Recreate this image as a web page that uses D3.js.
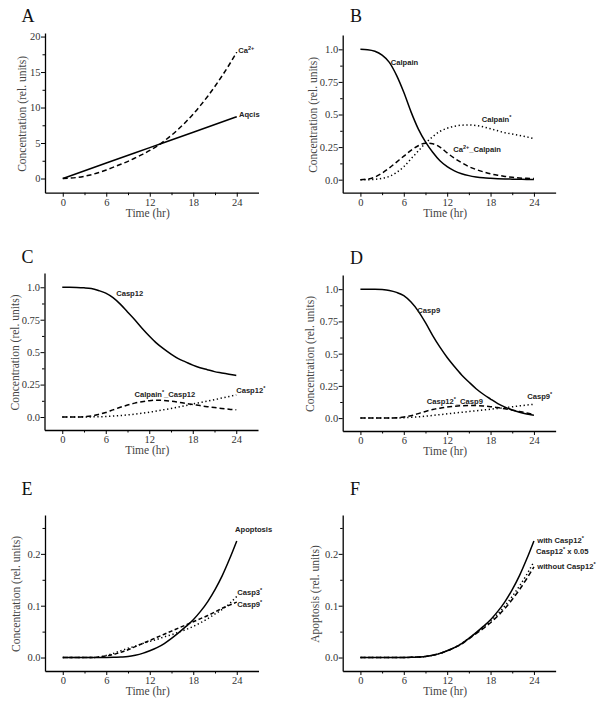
<!DOCTYPE html>
<html><head><meta charset="utf-8">
<script src="https://cdn.jsdelivr.net/npm/d3@7"></script>
<style>body{margin:0;background:#fff}</style>
</head><body>
<svg id="chart" width="600" height="706"></svg>
<script>
// ---------- data ----------
const hours = [0,1,2,3,4,5,6,7,8,9,10,11,12,13,14,15,16,17,18,19,20,21,22,23,24];
const hoursCoarse = [0,6,12,18,24];
const xTicks = [0,6,12,18,24];
const xMinorTicks = [3,9,15,21];

// Panel A
const aqcis = [0,2.18,4.35,6.52,8.7];
const ca2 = [0,0.05,0.15,0.32,0.55,0.85,1.2,1.6,2.0,2.42,2.9,3.4,3.95,4.55,5.3,6.1,7.0,8.0,9.1,10.3,11.6,13.0,14.5,16.1,17.8];
const ticksA = [0,5,10,15,20];
const minorA = [2.5,7.5,12.5,17.5];

// Panel B
const calpain = [1.0,0.997,0.985,0.955,0.9,0.8,0.67,0.52,0.39,0.29,0.21,0.145,0.1,0.068,0.046,0.031,0.021,0.014,0.01,0.007,0.005,0.004,0.003,0.002,0.002];
const ca2Calpain = [0,0.005,0.02,0.05,0.09,0.135,0.18,0.225,0.26,0.28,0.275,0.25,0.205,0.165,0.13,0.1,0.078,0.06,0.045,0.034,0.025,0.018,0.013,0.01,0.008];
const calpainAct = [0,0,0.003,0.01,0.025,0.055,0.1,0.16,0.22,0.28,0.33,0.37,0.395,0.41,0.418,0.42,0.415,0.405,0.39,0.375,0.36,0.35,0.34,0.328,0.315];
const ticksUnit = [0,0.25,0.5,0.75,1.0];
const tickLabelsUnit = ["0.0","0.25","0.5","0.75","1.0"];
const minorUnit = [0.125,0.375,0.625,0.875];

// Panel C
const casp12 = [1,1,0.999,0.996,0.99,0.975,0.955,0.92,0.87,0.81,0.75,0.685,0.625,0.57,0.525,0.485,0.45,0.425,0.4,0.38,0.365,0.35,0.34,0.33,0.32];
const calpainCasp12 = [0,0,0,0.002,0.008,0.02,0.035,0.055,0.075,0.092,0.107,0.118,0.126,0.13,0.128,0.122,0.114,0.105,0.097,0.088,0.08,0.073,0.066,0.06,0.056];
const casp12Act = [0,0,0,0,0.001,0.002,0.004,0.007,0.011,0.016,0.022,0.029,0.037,0.046,0.056,0.066,0.077,0.088,0.1,0.111,0.122,0.134,0.146,0.158,0.17];

// Panel D
const casp9 = [1,1,1,0.997,0.99,0.975,0.95,0.9,0.83,0.74,0.64,0.55,0.47,0.4,0.335,0.28,0.228,0.185,0.148,0.113,0.085,0.063,0.046,0.032,0.022];
const casp12Casp9 = [0,0,0,0,0,0.002,0.008,0.018,0.035,0.052,0.066,0.077,0.086,0.092,0.096,0.098,0.097,0.094,0.089,0.082,0.072,0.062,0.051,0.04,0.029];
const casp9Act = [0,0,0,0,0,0.001,0.003,0.006,0.01,0.015,0.021,0.027,0.033,0.039,0.045,0.051,0.057,0.063,0.069,0.075,0.081,0.088,0.095,0.101,0.107];

// Panel E
const apoptosis = [0,0,0,0,0,0,0,0.0003,0.001,0.002,0.0045,0.008,0.013,0.019,0.027,0.037,0.048,0.06,0.073,0.089,0.108,0.131,0.158,0.19,0.225];
const casp3Act = [0,0,0,0,0,0.001,0.004,0.008,0.013,0.018,0.022,0.027,0.031,0.035,0.04,0.044,0.049,0.054,0.06,0.067,0.075,0.084,0.093,0.104,0.118];
const ticksSmall = [0,0.1,0.2];
const tickLabelsSmall = ["0.0","0.1","0.2"];
const minorSmall = [0.05,0.15,0.25];

// Panel F
const apoptosisLow = [0,0,0,0,0,0,0,0.0003,0.001,0.002,0.0045,0.008,0.013,0.019,0.027,0.037,0.047,0.058,0.07,0.084,0.1,0.118,0.138,0.16,0.185];
const apoptosisNone = [0,0,0,0,0,0,0,0.0003,0.001,0.002,0.0045,0.008,0.013,0.019,0.026,0.036,0.046,0.056,0.067,0.08,0.095,0.112,0.131,0.152,0.175];

// ---------- layout ----------
const DASH = {solid:null, dashed:"5,3", dotted:"1.3,2.6", dashedShort:"4,2.5"};
const X_DOMAIN = [-2.45, 27];

const panels = [
  {letter:"A", axisLeft:45, perHr:7.25, axisBottom:192.7, axisTop:33, yDomain:[-2,20.5],
   ticks:ticksA, tickLabels:ticksA.map(String), minor:minorA, yTitle:"Concentration (rel. units)", yTitleX:21.7, letterX:21.5, letterY:21.7,
   series:[{x:hoursCoarse, y:aqcis, style:"solid"},{x:hours, y:ca2, style:"dashed"}],
   labels:[{t:"Ca",sup:"2+",hr:24.2,v:17.7},{t:"Aqcis",hr:24.3,v:8.66}]},
  {letter:"B", axisLeft:342.7, perHr:7.23, axisBottom:192.7, axisTop:35, yDomain:[-0.1,1.11],
   ticks:ticksUnit, tickLabels:tickLabelsUnit, minor:minorUnit, yTitle:"Concentration (rel. units)", yTitleX:312.7, letterX:350, letterY:21.7,
   series:[{x:hours,y:calpain,style:"solid"},{x:hours,y:ca2Calpain,style:"dashed"},{x:hours,y:calpainAct,style:"dotted"}],
   labels:[{t:"Calpain",hr:4.19,v:0.876},{t:"Calpain",sup:"*",hr:16.78,v:0.446},{t:"Ca",sup:"2+",after:"_Calpain",hr:12.85,v:0.2085}]},
  {letter:"C", axisLeft:44.5, perHr:7.25, axisBottom:430, axisTop:273, yDomain:[-0.1,1.11],
   ticks:ticksUnit, tickLabels:tickLabelsUnit, minor:minorUnit, yTitle:"Concentration (rel. units)", yTitleX:15, letterX:21.5, letterY:263.3,
   series:[{x:hours,y:casp12,style:"solid"},{x:hours,y:calpainCasp12,style:"dashed"},{x:hours,y:casp12Act,style:"dotted"}],
   labels:[{t:"Casp12",hr:7.44,v:0.9326},{t:"Calpain",sup:"*",after:"_Casp12",hr:9.96,v:0.156},{t:"Casp12",sup:"*",hr:23.99,v:0.185}]},
  {letter:"D", axisLeft:342.7, perHr:7.23, axisBottom:431, axisTop:275, yDomain:[-0.1,1.11],
   ticks:ticksUnit, tickLabels:tickLabelsUnit, minor:minorUnit, yTitle:"Concentration (rel. units)", yTitleX:310, letterX:350, letterY:264,
   series:[{x:hours,y:casp9,style:"solid"},{x:hours,y:casp12Casp9,style:"dashed"},{x:hours,y:casp9Act,style:"dotted"}],
   labels:[{t:"Casp9",hr:7.87,v:0.818},{t:"Casp12",sup:"*",after:"_Casp9",hr:9.17,v:0.112},{t:"Casp9",sup:"*",hr:23.08,v:0.145}]},
  {letter:"E", axisLeft:45, perHr:7.25, axisBottom:671, axisTop:515, yDomain:[-0.026,0.275],
   ticks:ticksSmall, tickLabels:tickLabelsSmall, minor:minorSmall, yTitle:"Concentration (rel. units)", yTitleX:16, letterX:21.5, letterY:495,
   series:[{x:hours,y:apoptosis,style:"solid"},{x:hours,y:casp3Act,style:"dotted"},{x:hours,y:casp9Act,style:"dashedShort"}],
   labels:[{t:"Apoptosis",hr:23.76,v:0.242},{t:"Casp3",sup:"*",hr:24.07,v:0.12},{t:"Casp9",sup:"*",hr:24.07,v:0.0967}]},
  {letter:"F", axisLeft:342.7, perHr:7.23, axisBottom:671, axisTop:515, yDomain:[-0.026,0.275],
   ticks:ticksSmall, tickLabels:tickLabelsSmall, minor:minorSmall, yTitle:"Apoptosis (rel. units)", yTitleX:315, letterX:350, letterY:495,
   series:[{x:hours,y:apoptosis,style:"solid"},{x:hours,y:apoptosisLow,style:"dotted"},{x:hours,y:apoptosisNone,style:"dashed"}],
   labels:[{t:"with Casp12",sup:"*",hr:24.47,v:0.2215},{t:"Casp12",sup:"*",after:" x 0.05",hr:24.29,v:0.199},{t:"without Casp12",sup:"*",hr:24.47,v:0.17}]}
];

const svg = d3.select("#chart");
const SERIF = "'Liberation Serif','Times New Roman',serif";
const SANS = "'Liberation Sans',Arial,sans-serif";

panels.forEach(p => {
  const x = d3.scaleLinear().domain(X_DOMAIN)
    .range([p.axisLeft, p.axisLeft + (X_DOMAIN[1]-X_DOMAIN[0])*p.perHr]);
  const y = d3.scaleLinear().domain(p.yDomain).range([p.axisBottom, p.axisTop]);
  const g = svg.append("g");

  // panel letter
  g.append("text").attr("x", p.letterX).attr("y", p.letterY)
    .attr("font-family", SERIF).attr("font-size", 18).attr("fill", "#111").text(p.letter);

  // minor ticks
  g.append("g").attr("transform", `translate(0,${p.axisBottom})`)
    .call(d3.axisBottom(x).tickValues(xMinorTicks).tickSize(2.5).tickFormat(""))
    .call(s => s.select(".domain").remove());
  g.append("g").attr("transform", `translate(${p.axisLeft},0)`)
    .call(d3.axisLeft(y).tickValues(p.minor.filter(v => v <= p.yDomain[1])).tickSize(2.5).tickFormat(""))
    .call(s => s.select(".domain").remove());

  // major axes
  const xa = g.append("g").attr("transform", `translate(0,${p.axisBottom})`)
    .call(d3.axisBottom(x).tickValues(xTicks).tickSize(4).tickSizeOuter(0).tickPadding(2));
  const ya = g.append("g").attr("transform", `translate(${p.axisLeft},0)`)
    .call(d3.axisLeft(y).tickValues(p.ticks).tickFormat((d,i) => p.tickLabels[i]).tickSize(4).tickSizeOuter(0).tickPadding(0.5));
  [xa, ya].forEach(a => {
    a.selectAll("text").attr("font-family", SERIF).attr("font-size", 10.5).attr("fill", "#333");
    a.selectAll("line").attr("stroke", "#000").attr("stroke-width", 1);
    a.select(".domain").attr("stroke", "#000").attr("stroke-width", 1.3);
  });
  g.selectAll("g.tick line").attr("stroke", "#000");

  // axis titles
  g.append("text").attr("x", x(12) - 2).attr("y", p.axisBottom + 24)
    .attr("text-anchor", "middle").attr("font-family", SERIF).attr("font-size", 11.5).attr("fill", "#444")
    .text("Time (hr)");
  const midY = (p.axisBottom + p.axisTop) / 2 + 1;
  g.append("text").attr("transform", `translate(${p.yTitleX},${midY}) rotate(-90)`)
    .attr("text-anchor", "middle").attr("dominant-baseline", "central")
    .attr("font-family", SERIF).attr("font-size", 11.5).attr("fill", "#444")
    .text(p.yTitle);

  // curves
  const line = d3.line().curve(d3.curveMonotoneX);
  p.series.forEach(s => {
    const pts = s.x.map((h, i) => [x(h), y(s.y[i])]);
    g.append("path").attr("d", line(pts)).attr("fill", "none")
      .attr("stroke", "#000").attr("stroke-width", 1.5)
      .attr("stroke-dasharray", DASH[s.style]);
  });

  // curve labels
  p.labels.forEach(l => {
    const t = g.append("text").attr("x", x(l.hr)).attr("y", y(l.v))
      .attr("font-family", SANS).attr("font-weight", "bold").attr("font-size", 7.6).attr("fill", "#222");
    t.append("tspan").text(l.t);
    if (l.sup) t.append("tspan").attr("font-size", 5.5).attr("dy", -3).text(l.sup);
    if (l.after) t.append("tspan").attr("dy", 3).text(l.after);
  });
});
</script>
</body></html>
